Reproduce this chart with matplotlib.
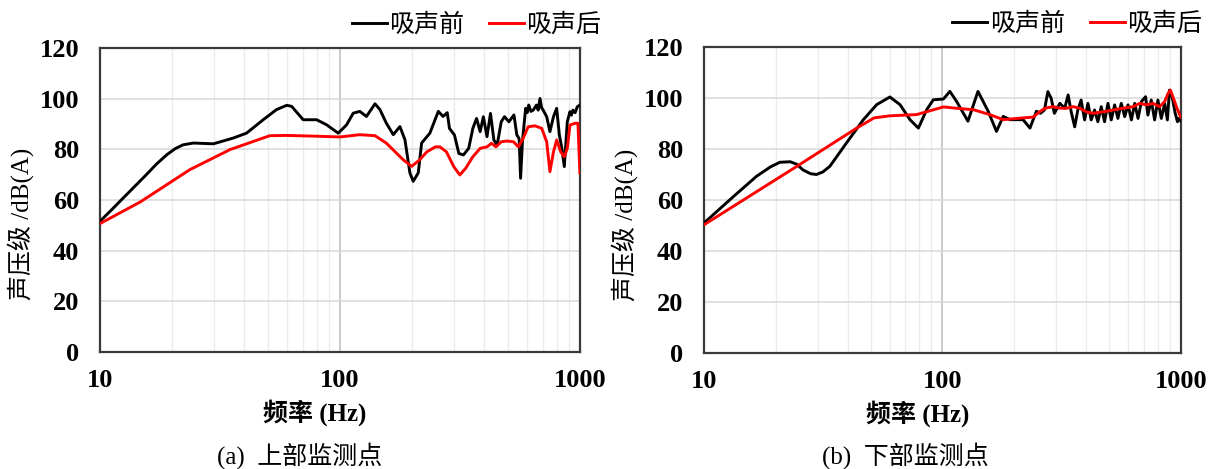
import matplotlib
matplotlib.use("Agg")
import matplotlib.pyplot as plt
from matplotlib.ticker import NullFormatter, FixedLocator, FixedFormatter

plt.rcParams['font.family'] = ['Liberation Serif', 'Noto Sans CJK SC']

# upper monitoring point
f_up_before = [10, 11.2, 12.5, 14, 15.6, 17.2, 19, 20.6, 22.2, 24.5, 29.7, 36, 40.8, 47.9, 54.4, 60, 62.9,
               70.3, 80, 88, 98.4, 106.6, 113.6, 121, 129, 140, 146.8, 156, 166.8,
               177.8, 186.6, 195.7, 202, 212, 219, 237, 257, 269, 280, 286, 300, 313,
               327, 344, 358, 371, 384, 396, 410, 424, 438, 452, 470, 485, 506, 531,
               546, 558, 566, 576, 594, 603, 612, 625, 639, 659, 670, 682, 692, 703,
               727, 750, 776, 800, 821, 841, 861, 886, 909, 922, 935, 955, 975, 1000]
spl_up_before = [51.6, 56.2, 60.8, 65.5, 70, 74.2, 77.9, 80.3, 81.8, 82.5, 82.2, 84.5, 86.4, 91.7, 95.7, 97.4, 97,
                 91.7, 91.7, 89.7, 86.4, 89.7, 94.3, 95, 93, 98, 95.7, 90.4, 85.8,
                 89, 83.8, 70.7, 67.4, 70.7, 82.5, 86.4, 95, 93, 94.5, 88.3, 85.7, 78.4,
                 77.8, 80.4, 88.3, 92.2, 87, 92.9, 85, 94.2, 83.7, 81.7, 90.9, 92.9, 90.9, 93.6,
                 85.7, 84.3, 68.6, 83, 96.2, 94.5, 97.5, 95, 95.5, 97.5, 95.5, 100.1, 96.5, 95.5,
                 92.9, 87, 92.9, 96.2, 85.7, 80.4, 73.2, 90.9, 94.9, 93.5, 95.5, 94.5, 96.8, 97.5]

f_up_after = [10, 14.7, 23.7, 34.8, 51, 60, 80, 100, 121, 140, 156, 183.5, 199, 215,
              230, 250, 261, 278, 298, 316, 334, 358, 384, 410, 428, 447, 470, 496,
              529, 554, 580, 608, 649, 693, 727, 750, 776, 800, 832, 861, 886, 909,
              953, 981, 1000]
spl_up_after = [50.7, 59.2, 72, 79.9, 85.4, 85.5, 85.2, 84.9, 85.8, 85.4, 82.5, 75.9, 73.3, 75.9,
                79, 81, 81, 79, 73.2, 69.9, 72.5, 77.1, 80.4, 81, 82.4, 81, 83, 83.3,
                83, 81, 84.3, 88.9, 89.3, 88.3, 83, 71.2, 79, 83.7, 79, 77.1, 80.4, 89.6,
                90.3, 90.3, 70.7]

# lower monitoring point
f_low_before = [10, 13.3, 16.6, 19, 20.8, 23, 24.5, 26, 28, 29.6, 31.5, 33.7, 39.6, 46.6, 53, 60.2, 66.4,
                73.1, 79.3, 85.9, 91.6, 101, 107.5, 114.6, 128, 141, 155.6, 168.6, 180,
                192, 218, 233, 248, 258, 268, 277, 286, 295, 311, 326, 337, 347, 359,
                370, 382, 395, 408, 421, 435, 449, 464, 479, 495, 511, 528, 545, 563,
                582, 601, 621, 641, 662, 684, 712, 728, 752, 777, 802, 829, 856, 879,
                897, 920, 948, 969, 983, 1000]
spl_low_before = [51, 61.4, 69.3, 73, 74.8, 75, 74, 71.8, 70.3, 70, 71, 73.2, 82.4, 91.5, 97.4, 100.4, 97.4,
                  91.5, 88.2, 95.4, 99.3, 99.6, 102.6, 98.7, 90.9, 102.6, 94.8, 86.9, 92.8,
                  91.5, 91.5, 88.2, 94.8, 94, 95.3, 102.5, 99.9, 94, 97.9, 96, 101.2, 94.6, 88.7,
                  95.3, 99.2, 91.4, 97.9, 91.4, 95.3, 90.7, 96.6, 90.7, 97.9, 91.4, 97.3, 92, 97.9,
                  92.7, 97.3, 91.4, 97.9, 92, 98.6, 100.5, 93.3, 99.2, 91.4, 99.2, 92, 97.9, 91.4,
                  103.1, 100.5, 94, 90.7, 92, 91]

f_low_after = [10, 24.5, 43.7, 51.7, 60, 78, 101, 114, 135, 158, 180, 218, 240, 256,
               270, 291, 311, 332, 354, 376, 402, 428, 473, 520, 574, 632, 673, 718,
               765, 815, 856, 885, 905, 932, 964, 1000]
spl_low_after = [50.3, 73.2, 88.2, 92.2, 93, 93.5, 96.5, 96, 95.4, 93.5, 91.5, 92.2, 92.5, 94.6,
                 96, 96.6, 96, 96, 96.6, 96, 94.6, 94, 94.6, 95.3, 96, 96.6, 97.9, 97.3,
                 97.9, 96.6, 98.6, 101.8, 103.1, 99.9, 96, 92.5]

y_ticks = [0, 20, 40, 60, 80, 100, 120]
x_ticks = [10, 100, 1000]
x_tick_labels = ['10', '100', '1000']
captions = ['(a)  上部监测点', '(b)  下部监测点']

fig = plt.figure(figsize=(12.16, 4.69), dpi=100)
ax1 = fig.add_axes([0.0822, 0.2495, 0.3947, 0.648])
ax2 = fig.add_axes([0.579, 0.2473, 0.392, 0.6525])

panels = [
    (ax1, f_up_before, spl_up_before, f_up_after, spl_up_after),
    (ax2, f_low_before, spl_low_before, f_low_after, spl_low_after),
]

for ax, fb, sb, fa, sa in panels:
    ax.plot(fb, sb, color='black', lw=2.1, label='吸声前', zorder=3, solid_joinstyle='round')
    ax.plot(fa, sa, color='#ff0000', lw=2.1, label='吸声后', zorder=4, solid_joinstyle='round')
    ax.set_xscale('log')
    ax.set_xlim(10, 1000)
    ax.set_ylim(0, 120)
    ax.xaxis.set_major_locator(FixedLocator(x_ticks))
    ax.xaxis.set_major_formatter(FixedFormatter(x_tick_labels))
    ax.xaxis.set_minor_formatter(NullFormatter())
    ax.set_yticks(y_ticks)
    ax.tick_params(which='both', length=0)
    ax.tick_params(axis='y', pad=15, labelsize=19)
    ax.tick_params(axis='x', pad=12, labelsize=19)
    for lab in ax.get_xticklabels() + ax.get_yticklabels():
        lab.set_fontweight('bold')
    ax.grid(axis='y', which='major', color='#d9d9d9', lw=1.1)
    ax.grid(axis='x', which='minor', color='#ececec', lw=1.0)
    ax.grid(axis='x', which='major', color='#bdbdbd', lw=1.1)
    ax.set_axisbelow(True)
    for sp in ax.spines.values():
        sp.set_color('#3a3a3a')
        sp.set_linewidth(1.6)
    ax.set_xlabel('频率 (Hz)', fontsize=18, fontweight='bold')
    ax.xaxis.set_label_coords(0.448, -0.155)
    ax.xaxis.label.set_va('top')
    ax.set_ylabel('声压级 /dB(A)', fontsize=18)
    ax.yaxis.set_label_coords(-0.138, 0.42)
    ax.legend(loc='upper right', bbox_to_anchor=(1.045, 1.115), ncol=2, frameon=False,
              fontsize=18, handlelength=1.4, handletextpad=0.1, columnspacing=1.0,
              borderpad=0, borderaxespad=0)

fig.text(300 / 1216, 1 - 456 / 469, captions[0], fontsize=18, ha='center', va='center')
fig.text(905 / 1216, 1 - 456 / 469, captions[1], fontsize=18, ha='center', va='center')

fig.savefig('out.png', dpi=100)
